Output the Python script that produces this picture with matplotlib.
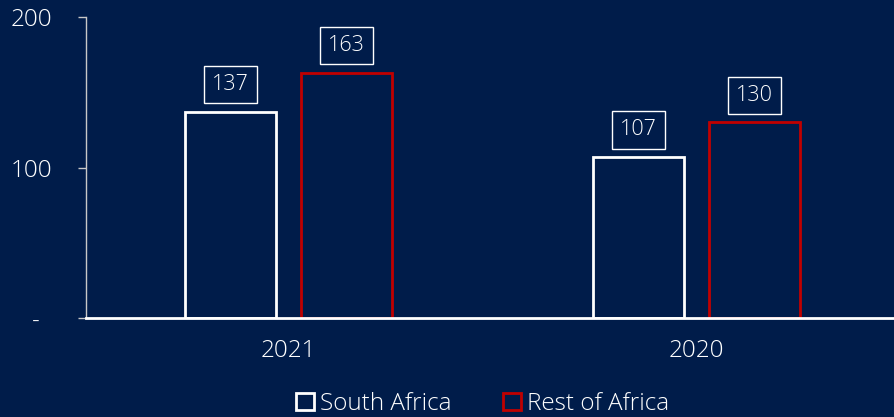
import numpy as np
import matplotlib.pyplot as plt

# data
years = ["2021", "2020"]
south_africa = [137, 107]
rest_of_africa = [163, 130]
yticks = [0, 100, 200]
ytick_labels = ["-  ", "100", "200"]

bg = "#001c4a"
red = "#c00000"

plt.rcParams['font.family'] = ['Open Sans', 'DejaVu Sans']
plt.rcParams['font.weight'] = 'light'
fs = 17.5
lab_fs = 15.5

fig = plt.figure(figsize=(8.94, 4.17), dpi=100, facecolor=bg)
ax = fig.add_axes([86/894, 1 - 318/417, 808/894, 301/417], facecolor=bg)

x = np.arange(len(years))
w = 0.223
off = 0.142

b1 = ax.bar(x - off, south_africa, w, facecolor=bg, edgecolor="white", linewidth=2, label="South Africa")
b2 = ax.bar(x + off, rest_of_africa, w, facecolor=bg, edgecolor=red, linewidth=2, label="Rest of Africa")

for bars, vals in ((b1, south_africa), (b2, rest_of_africa)):
    for rect, v in zip(bars, vals):
        ax.annotate(str(v), (rect.get_x() + rect.get_width() / 2, v),
                    xytext=(0, 19.5), textcoords="offset points",
                    ha="center", va="center", color="white", fontsize=lab_fs,
                    bbox=dict(boxstyle="square,pad=0.38", fc=bg, ec="white", lw=1))

ax.set_xlim(-0.4966, 1.485)
ax.set_ylim(0, 200)
ax.set_xticks(x)
ax.set_xticklabels(years)
ax.set_yticks(yticks)
ax.set_yticklabels(ytick_labels)

for s in ("top", "right"):
    ax.spines[s].set_visible(False)
ax.spines["left"].set_color("#c8c8c8")
ax.spines["left"].set_linewidth(1)
ax.spines["bottom"].set_color("white")
ax.spines["bottom"].set_linewidth(2)

ax.tick_params(axis="x", length=0, colors="white", labelsize=fs, pad=15)
ax.tick_params(axis="y", length=6, width=1, color="#c8c8c8", labelcolor="white", labelsize=fs, pad=18)

leg = fig.legend(loc="lower center", bbox_to_anchor=(0.54, -0.05), ncol=2, frameon=False,
                 fontsize=fs, labelcolor="white", handlelength=0.75, handleheight=0.75,
                 handletextpad=0.25, columnspacing=2.1)

fig.savefig("out.png", dpi=100, facecolor=bg)
